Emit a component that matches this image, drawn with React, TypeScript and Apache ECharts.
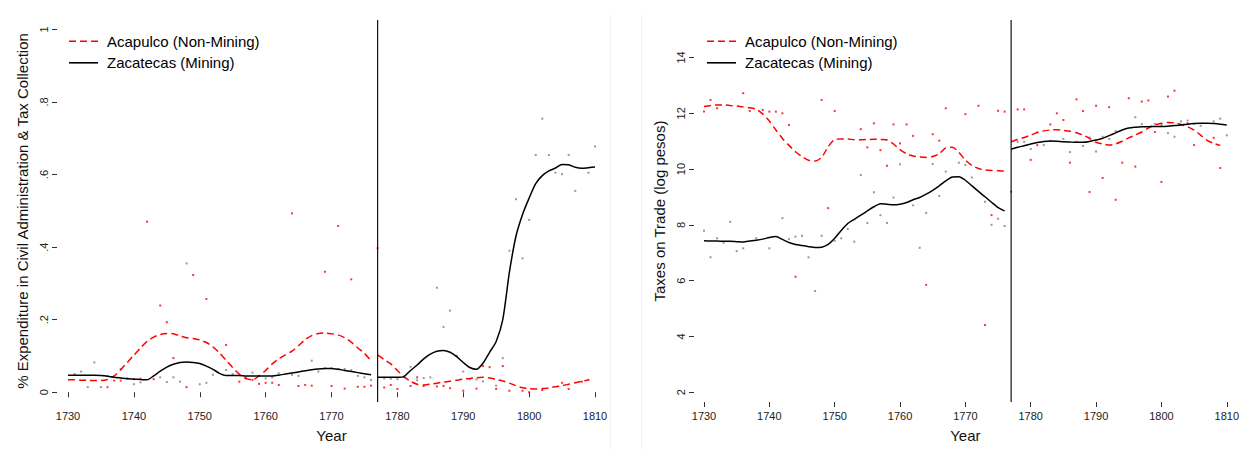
import React, { useEffect, useRef } from 'react';
import * as echarts from 'echarts';

const FONT = "'Liberation Sans', Arial, Helvetica, sans-serif";
const ACA = 'Acapulco (Non-Mining)';
const ZAC = 'Zacatecas (Mining)';
const BREAK_YEAR = 1777;

const X_TICKS = [1730, 1740, 1750, 1760, 1770, 1780, 1790, 1800, 1810];
const LEFT_Y_TICKS = [0, 0.2, 0.4, 0.6, 0.8, 1];
const LEFT_Y_LABELS = ['0', '.2', '.4', '.6', '.8', '1'];
const RIGHT_Y_TICKS = [2, 4, 6, 8, 10, 12, 14];

const PRE_START = 1730;
const POST_START = 1777;

// ---- Left panel: share of expenditure (smoothed curves, yearly) ----
const leftAcaPre = [
  0.034, 0.034, 0.033, 0.033, 0.032, 0.032, 0.035, 0.045, 0.062, 0.082,
  0.102, 0.122, 0.14, 0.152, 0.159, 0.162, 0.161, 0.155, 0.15, 0.148,
  0.144, 0.137, 0.125, 0.108, 0.088, 0.068, 0.05, 0.038, 0.034, 0.045,
  0.06, 0.078, 0.092, 0.103, 0.113, 0.128, 0.145, 0.156, 0.162, 0.163,
  0.161, 0.158, 0.15, 0.138, 0.122, 0.107, 0.087,
];
const leftZacPre = [
  0.047, 0.047, 0.047, 0.047, 0.047, 0.046, 0.044, 0.041, 0.039, 0.037,
  0.036, 0.035, 0.034, 0.045, 0.058, 0.069, 0.077, 0.082, 0.083, 0.082,
  0.079, 0.072, 0.063, 0.052, 0.046, 0.046, 0.046, 0.045, 0.045, 0.045,
  0.045, 0.045, 0.047, 0.05, 0.053, 0.056, 0.059, 0.062, 0.064, 0.065,
  0.065, 0.063, 0.06, 0.057, 0.054, 0.051, 0.048,
];
const leftAcaPost = [
  0.103, 0.09, 0.078, 0.06, 0.043, 0.03, 0.022, 0.02, 0.022, 0.025,
  0.028, 0.03, 0.033, 0.036, 0.038, 0.04, 0.041, 0.039, 0.035, 0.031,
  0.025, 0.018, 0.012, 0.01, 0.009, 0.01, 0.012, 0.015, 0.018, 0.022,
  0.026, 0.03, 0.034,
];
const leftZacPost = [
  0.041, 0.041, 0.041, 0.041, 0.043, 0.06, 0.075, 0.092, 0.105, 0.113,
  0.115, 0.11, 0.098, 0.082, 0.068, 0.063, 0.08, 0.11, 0.14, 0.2,
  0.33, 0.43, 0.49, 0.535, 0.575, 0.597, 0.61, 0.618, 0.628, 0.627,
  0.62, 0.617, 0.619, 0.621,
];

// ---- Left panel: raw observations [year, value] ----
const leftAcaDots = [
  [1736, 0.014], [1737, 0.032], [1738, 0.032], [1739, 0.038], [1740, 0.036], [1741, 0.037],
  [1742, 0.47], [1743, 0.036], [1744, 0.239], [1745, 0.193], [1746, 0.094], [1748, 0.014],
  [1749, 0.323], [1751, 0.257], [1754, 0.13], [1756, 0.029], [1757, 0.038], [1758, 0.034],
  [1759, 0.023], [1760, 0.026], [1761, 0.026], [1762, 0.02], [1764, 0.493], [1765, 0.017],
  [1766, 0.02], [1767, 0.018], [1769, 0.332], [1770, 0.017], [1771, 0.458], [1772, 0.01],
  [1773, 0.311], [1774, 0.015], [1775, 0.015], [1776, 0.018],
  [1777, 0.397], [1778, 0.013], [1779, 0.02], [1780, 0.009], [1782, 0.017], [1783, 0.041],
  [1784, 0.017], [1786, 0.016], [1787, 0.017], [1788, 0.011], [1789, 0.1], [1790, 0.004],
  [1792, 0.01], [1793, 0.072], [1794, 0.069], [1795, 0.009], [1796, 0.072], [1797, 0.004],
  [1799, 0.004], [1800, 0.0], [1802, 0.006], [1805, 0.026], [1806, 0.009], [1808, 0.029],
  [1809, 0.034],
];
const leftZacDots = [
  [1731, 0.05], [1732, 0.057], [1733, 0.014], [1734, 0.082], [1735, 0.014], [1736, 0.045],
  [1738, 0.064], [1740, 0.022], [1741, 0.027], [1744, 0.041], [1745, 0.028], [1746, 0.041],
  [1747, 0.029], [1748, 0.355], [1750, 0.022], [1751, 0.026], [1752, 0.048], [1754, 0.061],
  [1755, 0.05], [1757, 0.041], [1758, 0.054], [1759, 0.045], [1760, 0.038], [1761, 0.041],
  [1762, 0.052], [1764, 0.048], [1765, 0.045], [1767, 0.087], [1768, 0.057], [1769, 0.066],
  [1770, 0.066], [1771, 0.064], [1772, 0.064], [1773, 0.061], [1774, 0.045], [1775, 0.041],
  [1776, 0.034],
  [1778, 0.038], [1779, 0.037], [1780, 0.036], [1781, 0.041], [1782, 0.07], [1783, 0.033],
  [1784, 0.039], [1785, 0.041], [1786, 0.288], [1787, 0.18], [1788, 0.225], [1790, 0.057],
  [1791, 0.036], [1792, 0.035], [1793, 0.03], [1795, 0.018], [1796, 0.094], [1797, 0.39],
  [1798, 0.532], [1799, 0.369], [1800, 0.475], [1801, 0.654], [1802, 0.754], [1803, 0.654],
  [1804, 0.605], [1805, 0.601], [1806, 0.654], [1807, 0.555], [1809, 0.605], [1810, 0.677],
];

// ---- Right panel: taxes on trade, log pesos (smoothed curves, yearly) ----
const rightAcaPre = [
  12.24, 12.28, 12.3, 12.3, 12.28, 12.26, 12.23, 12.2, 12.14, 11.97,
  11.72, 11.4, 11.1, 10.85, 10.62, 10.45, 10.32, 10.29, 10.42, 10.8,
  11.06, 11.08, 11.08, 11.05, 11.05, 11.06, 11.07, 11.06, 11.04, 10.9,
  10.7, 10.55, 10.47, 10.44, 10.42, 10.45, 10.55, 10.76, 10.78, 10.6,
  10.32, 10.13, 10.02, 9.97, 9.95, 9.94, 9.93,
];
const rightZacPre = [
  7.43, 7.42, 7.42, 7.41, 7.41, 7.4, 7.39, 7.42, 7.45, 7.49,
  7.55, 7.58, 7.48, 7.37, 7.3, 7.26, 7.22, 7.19, 7.2, 7.3,
  7.52, 7.8, 8.05, 8.2, 8.35, 8.5, 8.65, 8.76, 8.74, 8.72,
  8.74, 8.8, 8.9, 8.98, 9.1, 9.24, 9.4, 9.58, 9.72, 9.73,
  9.6, 9.4, 9.2, 9.01, 8.81, 8.62, 8.5,
];
const rightAcaPost = [
  10.98, 11.06, 11.13, 11.22, 11.31, 11.37, 11.4, 11.41, 11.39, 11.36,
  11.3, 11.22, 11.1, 10.96, 10.9, 10.86, 10.9, 11.0, 11.12, 11.22,
  11.33, 11.47, 11.58, 11.64, 11.67, 11.66, 11.6, 11.52, 11.4, 11.22,
  11.03, 10.92, 10.85,
];
const rightZacPost = [
  10.71, 10.78, 10.84, 10.9, 10.95, 10.99, 11.01, 11.0, 10.98, 10.97,
  10.96, 10.96, 10.99, 11.04, 11.1, 11.2, 11.3, 11.4, 11.47, 11.5,
  11.52, 11.52, 11.53, 11.53, 11.54, 11.56, 11.58, 11.61, 11.63, 11.64,
  11.64, 11.63, 11.61, 11.58,
];

// ---- Right panel: raw observations [year, value] ----
const rightAcaDots = [
  [1730, 12.06], [1731, 12.48], [1732, 12.18], [1736, 12.72], [1737, 12.08], [1739, 12.12],
  [1740, 12.06], [1741, 12.06], [1742, 12.0], [1743, 11.58], [1744, 6.14], [1748, 12.48],
  [1749, 8.6], [1750, 12.08], [1754, 11.43], [1755, 10.78], [1756, 11.64], [1757, 10.68],
  [1758, 10.12], [1759, 11.6], [1760, 10.92], [1761, 11.6], [1762, 11.19], [1764, 5.85],
  [1765, 11.25], [1766, 11.02], [1767, 12.18], [1770, 11.97], [1772, 12.27], [1773, 4.41],
  [1774, 8.35], [1775, 12.09], [1776, 12.06],
  [1777, 9.19], [1778, 12.14], [1779, 12.14], [1780, 10.33], [1781, 10.86], [1783, 11.6],
  [1784, 12.0], [1785, 11.76], [1786, 10.23], [1787, 12.5], [1788, 12.08], [1789, 9.18],
  [1790, 12.27], [1791, 9.68], [1792, 12.22], [1793, 8.9], [1794, 10.23], [1795, 12.54],
  [1796, 10.09], [1797, 12.42], [1798, 12.46], [1799, 11.33], [1800, 9.54], [1801, 12.6],
  [1802, 12.81], [1804, 11.64], [1805, 10.86], [1808, 11.12], [1809, 10.04],
];
const rightZacDots = [
  [1730, 7.79], [1731, 6.84], [1732, 7.52], [1733, 7.36], [1734, 8.11], [1735, 7.06],
  [1736, 7.16], [1738, 7.52], [1740, 7.16], [1742, 8.24], [1743, 7.49], [1744, 7.58],
  [1745, 7.61], [1746, 6.84], [1747, 5.63], [1748, 7.61], [1750, 7.43], [1751, 7.52],
  [1752, 7.85], [1753, 7.4], [1754, 9.79], [1755, 8.07], [1756, 9.17], [1757, 8.35],
  [1758, 8.07], [1759, 8.98], [1760, 10.17], [1762, 8.7], [1763, 7.18], [1764, 8.43],
  [1765, 10.18], [1766, 9.04], [1767, 9.91], [1769, 10.23], [1770, 10.15], [1771, 9.7],
  [1773, 8.83], [1774, 8.0], [1775, 8.22], [1776, 7.96],
  [1778, 10.98], [1779, 10.98], [1780, 10.72], [1781, 11.32], [1782, 10.86], [1783, 11.01],
  [1785, 11.08], [1786, 10.61], [1787, 10.98], [1788, 10.83], [1789, 11.13], [1790, 10.63],
  [1791, 11.16], [1792, 11.08], [1793, 11.36], [1796, 11.86], [1797, 11.61], [1799, 11.62],
  [1800, 11.58], [1801, 11.29], [1802, 11.16], [1803, 11.71], [1804, 11.74], [1805, 11.62],
  [1806, 11.55], [1808, 11.71], [1809, 11.81], [1810, 11.21],
];

// axis extents (plot region, R-style expansion)
const LEFT_Y_MIN = -0.027;
const LEFT_Y_MAX = 1.026;
const RIGHT_Y_MIN = 1.652;
const RIGHT_Y_MAX = 15.344;

const RED = '#ff0000';
const BLACK = '#000000';
const DOT_GRAY = '#808080';

// legend icons: dashed red sample and solid black sample
const DASH_ICON = 'path://M0,0h7v1.6h-7z M11,0h7v1.6h-7z M22,0h7v1.6h-7z';
const SOLID_ICON = 'path://M0,0h29v1.6h-29z';

const pairs = (start: number, vals: number[]) => vals.map((v, i) => [start + i, v]);

function buildPanel(idx: number, yMin: number, yMax: number, acaPre: number[], zacPre: number[], acaPost: number[], zacPost: number[], acaDots: number[][], zacDots: number[][]) {
  const base = { xAxisIndex: idx, yAxisIndex: idx, silent: true, animation: false };
  const redLine = { color: RED, width: 1.5, type: [7, 4] as any };
  const blackLine = { color: BLACK, width: 1.5, type: 'solid' };
  return [
    { ...base, name: `aca-dots-${idx}`, type: 'scatter', symbol: 'rect', symbolSize: 2, itemStyle: { color: RED }, data: acaDots, z: 2 },
    { ...base, name: `zac-dots-${idx}`, type: 'scatter', symbol: 'rect', symbolSize: 2, itemStyle: { color: DOT_GRAY }, data: zacDots, z: 2 },
    { ...base, name: ACA, type: 'line', smooth: 0.25, symbol: 'none', showSymbol: false, lineStyle: redLine, itemStyle: { color: RED }, data: pairs(PRE_START, acaPre), z: 3 },
    { ...base, name: ACA, type: 'line', smooth: 0.25, symbol: 'none', showSymbol: false, lineStyle: redLine, itemStyle: { color: RED }, data: pairs(POST_START, acaPost), z: 3 },
    { ...base, name: ZAC, type: 'line', smooth: 0.25, symbol: 'none', showSymbol: false, lineStyle: blackLine, itemStyle: { color: BLACK }, data: pairs(PRE_START, zacPre), z: 4 },
    { ...base, name: ZAC, type: 'line', smooth: 0.25, symbol: 'none', showSymbol: false, lineStyle: blackLine, itemStyle: { color: BLACK }, data: pairs(POST_START, zacPost), z: 4 },
    { ...base, name: `break-${idx}`, type: 'line', symbol: 'none', showSymbol: false, lineStyle: { color: '#111', width: 1.2 }, data: [[BREAK_YEAR, yMin], [BREAK_YEAR, yMax]], z: 5 },
  ];
}

function xAxisCfg(idx: number) {
  return {
    type: 'value', gridIndex: idx, min: 1730, max: 1810, interval: 10,
    axisLine: { show: false },
    axisTick: { show: true, length: 5, lineStyle: { color: '#333', width: 1 } },
    axisLabel: { margin: 8, fontSize: 11, color: '#222', fontFamily: FONT, formatter: (v: number) => (X_TICKS.includes(v) ? String(v) : '') },
    splitLine: { show: false },
    name: 'Year', nameLocation: 'middle', nameGap: 26,
    nameTextStyle: { fontSize: 15, color: '#111', fontFamily: FONT },
  };
}

export default function App() {
  const ref = useRef<HTMLDivElement>(null);
  useEffect(() => {
    if (!ref.current) return;
    const chart = echarts.init(ref.current, undefined, { renderer: 'svg' });
    const legendBase = {
      orient: 'vertical', itemWidth: 29, itemHeight: 14, itemGap: 6.6, padding: 0,
      symbolKeepAspect: true, selectedMode: false,
      data: [
        { name: ACA, icon: DASH_ICON, itemStyle: { color: RED, borderWidth: 0 } },
        { name: ZAC, icon: SOLID_ICON, itemStyle: { color: BLACK, borderWidth: 0 } },
      ],
      textStyle: { fontFamily: FONT, fontSize: 15, color: '#000', padding: [0, 0, 0, 4] },
    };
    chart.setOption({
      animation: false,
      backgroundColor: '#ffffff',
      grid: [
        { left: 68, top: 20, width: 527, height: 382 },
        { left: 704, top: 20, width: 528, height: 382 },
      ],
      legend: [
        { ...legendBase, left: 69, top: 33.7 },
        { ...legendBase, left: 707, top: 33.7 },
      ],
      xAxis: [xAxisCfg(0), xAxisCfg(1)],
      yAxis: [
        {
          type: 'value', gridIndex: 0, min: LEFT_Y_MIN, max: LEFT_Y_MAX, offset: 11,
          axisLine: { show: false },
          axisTick: { show: true, length: 5, customValues: LEFT_Y_TICKS, lineStyle: { color: '#333' } },
          axisLabel: {
            customValues: LEFT_Y_TICKS, rotate: 90, margin: 8, fontSize: 11, color: '#222', fontFamily: FONT,
            formatter: (v: number) => {
              const i = LEFT_Y_TICKS.findIndex((t) => Math.abs(t - v) < 1e-6);
              return i >= 0 ? LEFT_Y_LABELS[i] : '';
            },
          },
          splitLine: { show: false },
          name: '% Expenditure in Civil Administration & Tax Collection', nameLocation: 'middle', nameGap: 27,
          nameTextStyle: { fontSize: 15, color: '#111', fontFamily: FONT },
        },
        {
          type: 'value', gridIndex: 1, min: RIGHT_Y_MIN, max: RIGHT_Y_MAX, offset: 10,
          axisLine: { show: false },
          axisTick: { show: true, length: 5, customValues: RIGHT_Y_TICKS, lineStyle: { color: '#333' } },
          axisLabel: {
            customValues: RIGHT_Y_TICKS, rotate: 90, margin: 8, fontSize: 11, color: '#222', fontFamily: FONT,
            formatter: (v: number) => String(Math.round(v)),
          },
          splitLine: { show: false },
          name: 'Taxes on Trade (log pesos)', nameLocation: 'middle', nameGap: 27,
          nameTextStyle: { fontSize: 15, color: '#111', fontFamily: FONT },
        },
      ],
      graphic: [
        { type: 'line', silent: true, shape: { x1: 610.5, y1: 15, x2: 610.5, y2: 449 }, style: { stroke: '#f2f2f2', lineWidth: 1 } },
        { type: 'line', silent: true, shape: { x1: 641.5, y1: 15, x2: 641.5, y2: 449 }, style: { stroke: '#f2f2f2', lineWidth: 1 } },
      ],
      series: [
        ...buildPanel(0, LEFT_Y_MIN, LEFT_Y_MAX, leftAcaPre, leftZacPre, leftAcaPost, leftZacPost, leftAcaDots, leftZacDots),
        ...buildPanel(1, RIGHT_Y_MIN, RIGHT_Y_MAX, rightAcaPre, rightZacPre, rightAcaPost, rightZacPost, rightAcaDots, rightZacDots),
      ],
    });
    return () => chart.dispose();
  }, []);
  return <div ref={ref} style={{ position: 'fixed', left: 0, top: 0, width: 1242, height: 449, background: '#fff' }} />;
}
